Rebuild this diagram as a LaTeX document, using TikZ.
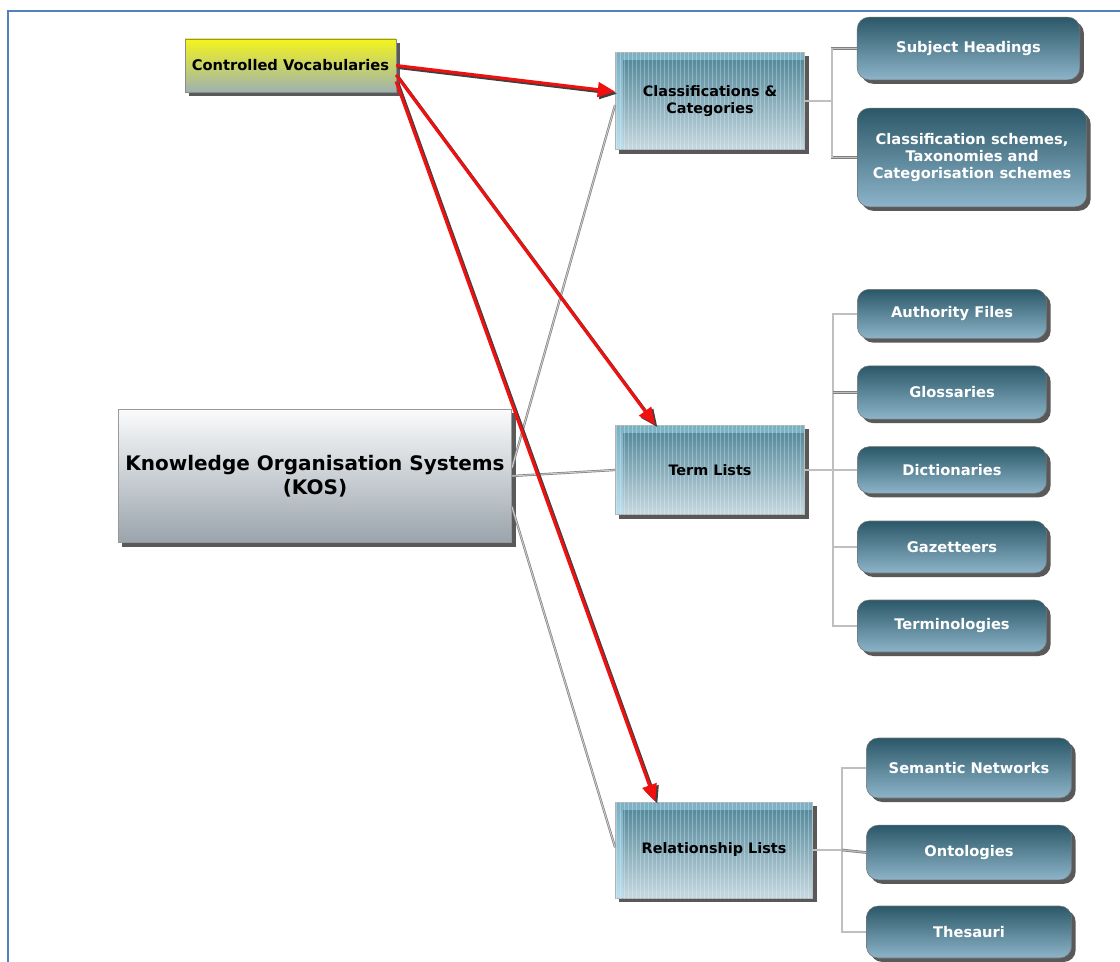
\documentclass[tikz,border=0pt]{standalone}
\usepackage{fontspec}
\setmainfont{DejaVu Sans}
\usetikzlibrary{arrows.meta,shadows,patterns}

\definecolor{framebl}{HTML}{4F81BD}
\definecolor{cvtop}{HTML}{F4F41C}
\definecolor{cvbot}{HTML}{9DB1B2}
\definecolor{leaftop}{HTML}{2B5868}
\definecolor{leafbot}{HTML}{8DB4C9}
\definecolor{midtop}{HTML}{4E8396}
\definecolor{midbot}{HTML}{C9D8E0}
\definecolor{kostop}{HTML}{FAFBFC}
\definecolor{kosbot}{HTML}{9AA4AC}
\definecolor{arrred}{HTML}{F01010}

\begin{document}
\begin{tikzpicture}[x=0.75pt, y=-0.75pt, font=\bfseries,
  >={Triangle[length=13pt, width=11pt]},
  shad/.style={drop shadow={shadow xshift=3pt, shadow yshift=-3pt, fill=black!65, opacity=1}},
  top/.style={draw=black!45, shad, top color=cvtop, bottom color=cvbot, inner sep=2pt,
    font=\fontsize{11}{13}\selectfont\bfseries},
  kosbox/.style={draw=black!40, shad, top color=kostop, bottom color=kosbot, align=center,
    font=\fontsize{15}{18}\selectfont\bfseries},
  midbox/.style={draw=black!30, shad, top color=midtop, bottom color=midbot, align=center,
    font=\fontsize{10.8}{12.5}\selectfont\bfseries,
    postaction={pattern=vertical lines, pattern color=white!85!cyan, opacity=.3},
    path picture={\fill[white!70!cyan, opacity=.45] (path picture bounding box.north west)
      rectangle ([yshift=-6pt]path picture bounding box.north east);
      \fill[white!70!cyan, opacity=.45] ([yshift=-6pt]path picture bounding box.north west)
      rectangle ([xshift=6pt]path picture bounding box.south west);}},
  leaf/.style={draw=black!55, shad, rounded corners=9pt, top color=leaftop, bottom color=leafbot,
    text=white, align=center, font=\fontsize{11}{13}\selectfont\bfseries},
  tree/.style={draw=black!50, line width=0.6pt, double=black!25, double distance=0.8pt},
  link/.style={draw=black!50, line width=0.5pt, double=black!20, double distance=0.7pt},
  redarr/.style={->, draw=arrred, fill=arrred, line width=2.3pt},
  redshad/.style={->, draw=black!75, fill=black!75, line width=2.3pt,
    transform canvas={xshift=1.5pt, yshift=-1.5pt}}]
\useasboundingbox (0,0) rectangle (1120,962);
\draw[framebl, line width=1.6pt] (1120,11) -- (8,11) -- (8,962);

% top level
\node[top, minimum width=158pt, minimum height=40pt] (cv) at (290.5,65.5) {Controlled Vocabularies};
\node[kosbox, minimum width=295pt, minimum height=100pt] (kos) at (315,476) {Knowledge Organisation Systems\\(KOS)};

% middle level
\node[midbox, minimum width=142pt, minimum height=73pt] (cc) at (710,101) {Classifications \&\\Categories};
\node[midbox, minimum width=142pt, minimum height=67pt] (tl) at (710,470) {Term Lists};
\node[midbox, minimum width=148pt, minimum height=72pt] (rl) at (714,850) {Relationship Lists};

% leaves
\node[leaf, minimum width=167pt, minimum height=47pt] (sh) at (968.5,48.5) {Subject Headings};
\node[leaf, minimum width=172pt, minimum height=74pt] (cs) at (972,157.5) {Classification schemes,\\Taxonomies and\\Categorisation schemes};
\node[leaf, minimum width=142pt, minimum height=37pt] (af) at (952,314) {Authority Files};
\node[leaf, minimum width=142pt, minimum height=40pt] (gl) at (952,392.5) {Glossaries};
\node[leaf, minimum width=142pt, minimum height=35pt] (di) at (952,470) {Dictionaries};
\node[leaf, minimum width=142pt, minimum height=39pt] (gz) at (952,547) {Gazetteers};
\node[leaf, minimum width=142pt, minimum height=39pt] (te) at (952,626) {Terminologies};
\node[leaf, minimum width=154pt, minimum height=45pt] (sn) at (969,768) {Semantic Networks};
\node[leaf, minimum width=154pt, minimum height=41pt] (on) at (969,852.5) {Ontologies};
\node[leaf, minimum width=154pt, minimum height=39pt] (th) at (969,932) {Thesauri};

% tree joints
\coordinate (ccj) at (832,101);
\coordinate (tlj) at (833,470);
\coordinate (rlj) at (842,850);
\draw[tree] (cc.east) -- (ccj);
\draw[tree] (sh.west) -| (ccj) |- (cs.west);
\draw[tree] (tl.east) -- (tlj);
\draw[tree] (af.west) -| (tlj) |- (te.west);
\draw[tree] (gl.west) -- (gl.west -| tlj);
\draw[tree] (di.west) -- (tlj);
\draw[tree] (gz.west) -- (gz.west -| tlj);
\draw[tree] (rl.east) -- (rlj);
\draw[tree] (sn.west) -| (rlj) |- (th.west);
\draw[tree] (on.west) -- (rlj);

% KOS links
\draw[link] ([yshift=6pt]kos.east) -- ([yshift=-3pt]cc.west);
\draw[link] (kos.east) -- (tl.west);
\draw[link] ([yshift=-23pt]kos.east) -- ([yshift=2pt]rl.west);

% controlled vocabularies
\draw[redshad] (cv.east) -- ([yshift=7pt]cc.west);
\draw[redshad] ([yshift=-7pt]cv.east) -- ([xshift=-41pt]tl.north);
\draw[redshad] ([yshift=-12pt]cv.east) -- ([xshift=-44pt]rl.north);
\draw[redarr] (cv.east) -- ([yshift=7pt]cc.west);
\draw[redarr] ([yshift=-7pt]cv.east) -- ([xshift=-41pt]tl.north);
\draw[redarr] ([yshift=-12pt]cv.east) -- ([xshift=-44pt]rl.north);
\end{tikzpicture}
\end{document}
